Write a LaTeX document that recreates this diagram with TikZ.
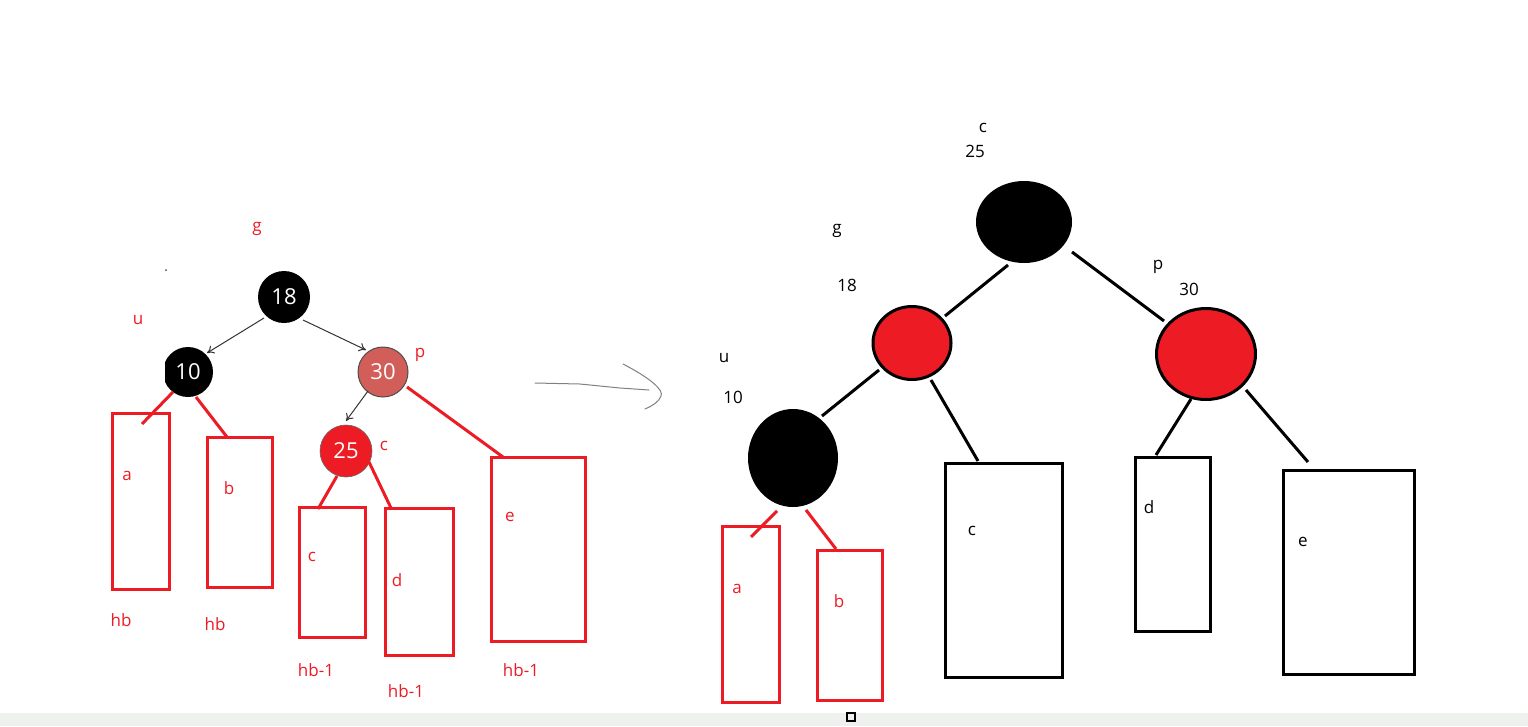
\documentclass[tikz,border=0pt]{standalone}
\usepackage{fontspec}
\setmainfont{Open Sans}
\usetikzlibrary{arrows.meta,shapes.geometric}
\definecolor{pred}{HTML}{ED1C24}
\definecolor{pink}{HTML}{D25E5A}
\definecolor{band}{HTML}{EEF1EE}
\begin{document}
\begin{tikzpicture}[x=1pt,y=-1pt,
  lbl/.style={inner sep=0pt,font=\fontsize{17}{17}\selectfont},
  rlbl/.style={lbl,text=pred},
  bnode/.style={circle,fill=black,minimum size=52pt,inner sep=0pt,text=white,font=\fontsize{22}{22}\selectfont},
  arr/.style={draw=black!80,line width=1pt,-{To[length=7pt,width=9pt]}},
  redl/.style={draw=pred,line width=3pt},
  blkl/.style={draw=black,line width=3pt},
  rbox/.style={draw=pred,line width=3pt},
  kbox/.style={draw=black,line width=3pt}]
\useasboundingbox (0,0) rectangle (1528,726);
\fill[white] (0,0) rectangle (1528,726);
\fill[band] (0,713) rectangle (1528,726);
\draw[black,line width=1.5pt] (847,713) rectangle (855,721);

% ---------- left tree ----------
\node[rlbl] (lg) at (257,229) {g};
\fill[black!70] (166,270) circle (1pt);
\node[rlbl] (lu) at (138,320) {u};
\node[bnode] (n18) at (284,297) {18};
\begin{scope}
\clip (165,340) rectangle (220,400);
\node[bnode,minimum size=50pt] (n10) at (188,372) {10};
\end{scope}
\node[circle,fill=pink,draw=black!70,line width=1pt,minimum size=50pt,inner sep=0pt,text=white,font=\fontsize{22}{22}\selectfont] (n30) at (383,372) {30};
\node[circle,fill=pred,draw=black!60,line width=0.6pt,minimum size=52pt,inner sep=0pt,text=white,font=\fontsize{22}{22}\selectfont] (n25) at (346,451) {25};
\node[rlbl] (lp) at (420,355) {p};
\node[rlbl] (lc) at (384,446) {c};

\coordinate (a18s) at (264,318); \coordinate (a10e) at (207,353);
\coordinate (b18s) at (303,320); \coordinate (b30e) at (366,350);
\coordinate (c30s) at (368,391); \coordinate (c25e) at (346,421);
\draw[arr] (a18s) -- (a10e);
\draw[arr] (b18s) -- (b30e);
\draw[arr] (c30s) -- (c25e);

\node[rbox,minimum width=57pt,minimum height=176pt,inner sep=0pt] (la) at (140.5,501) {};
\node[rlbl] (lat) at (127,476) {a};
\node[rbox,minimum width=65pt,minimum height=150pt,inner sep=0pt] (lb) at (239.5,512) {};
\node[rlbl] (lbt) at (229,488) {b};
\node[rbox,minimum width=66pt,minimum height=130pt,inner sep=0pt] (lcb) at (332,572) {};
\node[rlbl] (lct) at (312,557) {c};
\node[rbox,minimum width=68pt,minimum height=147pt,inner sep=0pt] (ld) at (419,581.5) {};
\node[rlbl] (ldt) at (397,580) {d};
\node[rbox,minimum width=94pt,minimum height=184pt,inner sep=0pt] (le) at (538,549) {};
\node[rlbl] (let) at (510,517) {e};

\coordinate (la1) at (173,392); \coordinate (la2) at (142,424);
\coordinate (lb1) at (196,397); \coordinate (lb2) at (227,437);
\coordinate (lc1) at (337,476); \coordinate (lc2) at (318,509);
\coordinate (ld1) at (369,462); \coordinate (ld2) at (391,508);
\coordinate (le1) at (407,387); \coordinate (le2) at (503,457);
\draw[redl] (la1) -- (la2);
\draw[redl] (lb1) -- (lb2);
\draw[redl] (lc1) -- (lc2);
\draw[redl] (ld1) -- (ld2);
\draw[redl] (le1) -- (le2);

\node[rlbl] (h1) at (121,620) {hb};
\node[rlbl] (h2) at (215,624) {hb};
\node[rlbl] (h3) at (316,670) {hb-1};
\node[rlbl] (h4) at (406,691) {hb-1};
\node[rlbl] (h5) at (521,670) {hb-1};

% ---------- hand-drawn arrow ----------
\coordinate (m1) at (535,383); \coordinate (m2) at (649,390);
\draw[black!50,line width=1pt,line cap=round] (m1) -- (580,384) -- (620,388) -- (m2);
\draw[black!50,line width=1pt,line cap=round] (623,364) .. controls (650,378) and (664,390) .. (661,396) .. controls (659,402) and (652,406) .. (645,409);

% ---------- right tree ----------
\node[lbl] (rc) at (983,128) {c};
\node[lbl] (r25) at (975,151) {25};
\node[ellipse,fill=black,minimum width=96pt,minimum height=82pt,inner sep=0pt] (root) at (1024,222) {};
\node[lbl] (rg) at (837,231) {g};
\node[lbl] (r18) at (847,285) {18};
\node[ellipse,fill=pred,draw=black,line width=3pt,minimum width=78pt,minimum height=73pt,inner sep=0pt] (lred) at (912,343) {};
\node[lbl] (ru) at (724,358) {u};
\node[lbl] (r10) at (733,397) {10};
\node[ellipse,fill=black,minimum width=90pt,minimum height=98pt,inner sep=0pt] (blk) at (793,458) {};
\node[lbl] (rp) at (1158,267) {p};
\node[lbl] (r30) at (1189,289) {30};
\node[ellipse,fill=pred,draw=black,line width=3pt,minimum width=99pt,minimum height=91pt,inner sep=0pt] (rred) at (1206,354) {};

\node[kbox,minimum width=117pt,minimum height=214pt,inner sep=0pt] (rcb) at (1003.5,570) {};
\node[lbl] (rct) at (972,531) {c};
\node[kbox,minimum width=75pt,minimum height=174pt,inner sep=0pt] (rd) at (1172.5,544) {};
\node[lbl] (rdt) at (1149,507) {d};
\node[kbox,minimum width=131pt,minimum height=204pt,inner sep=0pt] (re) at (1348.5,572) {};
\node[lbl] (ret) at (1303,542) {e};
\node[rbox,minimum width=57pt,minimum height=176pt,inner sep=0pt] (ra) at (750.5,614) {};
\node[rlbl] (rat) at (737,589) {a};
\node[rbox,minimum width=65pt,minimum height=150pt,inner sep=0pt] (rb) at (849.5,625) {};
\node[rlbl] (rbt) at (839,601) {b};

\coordinate (k1a) at (1008,265); \coordinate (k1b) at (945,316);
\coordinate (k2a) at (1072,252); \coordinate (k2b) at (1164,321);
\coordinate (k3a) at (879,370); \coordinate (k3b) at (822,416);
\coordinate (k4a) at (931,380); \coordinate (k4b) at (978,461);
\coordinate (k5a) at (1191,399); \coordinate (k5b) at (1156,455);
\coordinate (k6a) at (1246,390); \coordinate (k6b) at (1308,462);
\draw[blkl] (k1a) -- (k1b);
\draw[blkl] (k2a) -- (k2b);
\draw[blkl] (k3a) -- (k3b);
\draw[blkl] (k4a) -- (k4b);
\draw[blkl] (k5a) -- (k5b);
\draw[blkl] (k6a) -- (k6b);
\coordinate (r1a) at (777,511); \coordinate (r1b) at (751,537);
\coordinate (r2a) at (806,510); \coordinate (r2b) at (836,549);
\draw[redl] (r1a) -- (r1b);
\draw[redl] (r2a) -- (r2b);
\end{tikzpicture}
\end{document}
